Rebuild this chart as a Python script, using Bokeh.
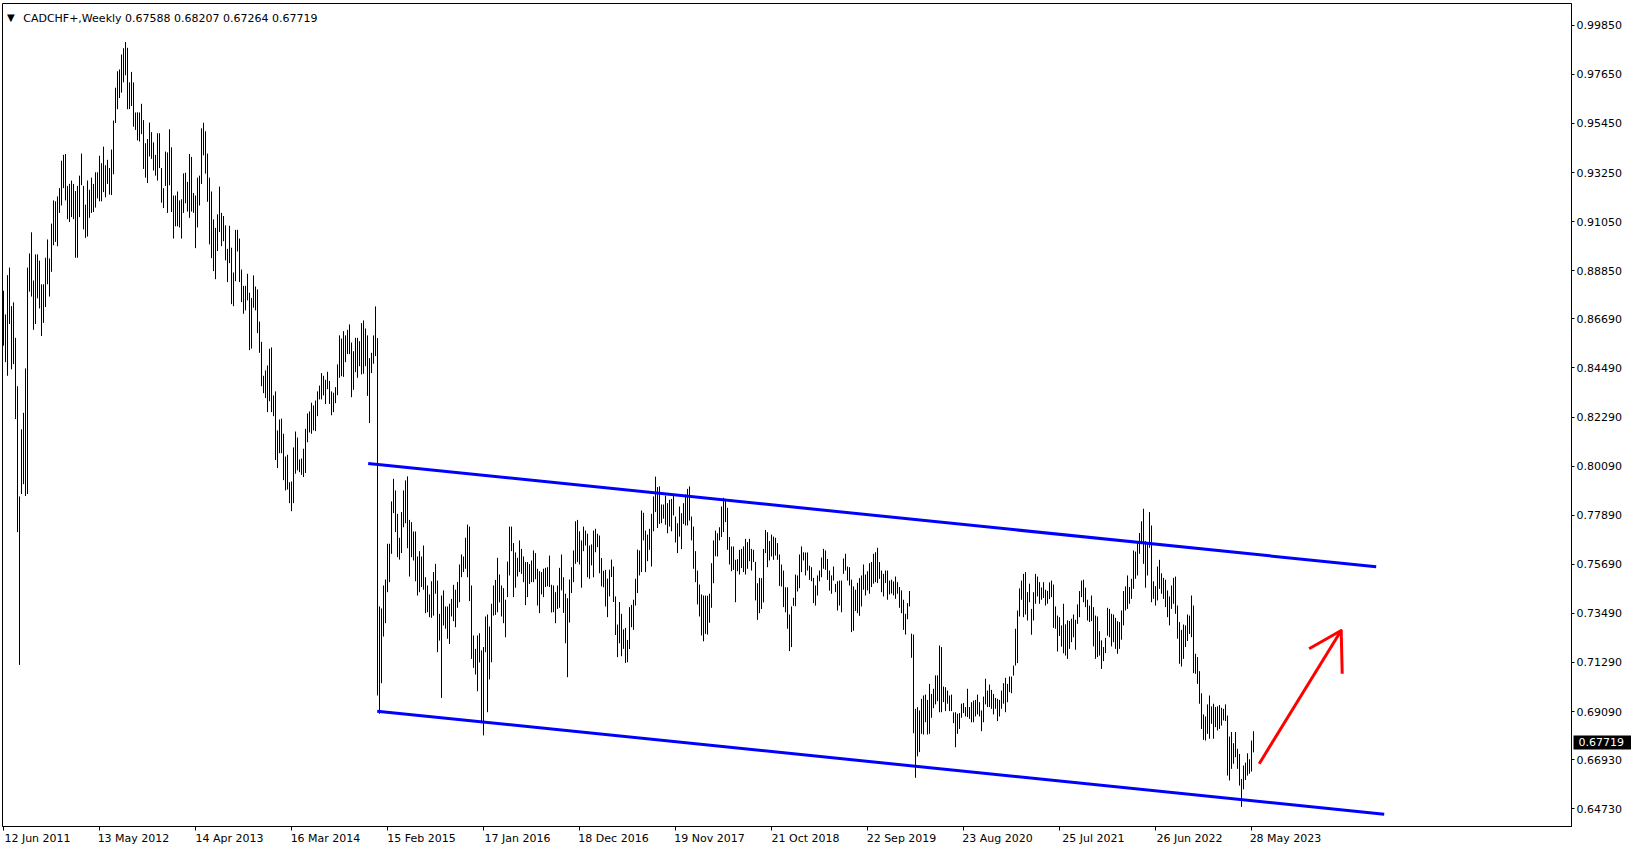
from bokeh.plotting import figure
from bokeh.models import (Range1d, FixedTicker, NumeralTickFormatter, Label, ColumnDataSource,
                          LinearAxis)
from bokeh.embed import file_html
from bokeh.resources import INLINE

# ---------------- data (weekly bars, prices in 1/10000 units) ----------------
# week 0 = 12 Jun 2011, one bar per week
high_2011 = [8795, 8689, 8865, 8899, 8726, 8743, 8584, 8367, 7873, 8174, 8248, 8447, 8899, 8962, 9057,
             8841, 8958, 8958, 8930, 8824, 8824, 8943, 9025, 8940, 9096, 9200, 9196, 9218, 9255]
low_2011 = [8549, 8475, 8414, 8646, 8443, 8466, 8220, 7713, 7118, 7884, 7928, 7875, 7884, 8791, 8769,
            8620, 8646, 8761, 8716, 8592, 8651, 8722, 8824, 8769, 8880, 8999, 9014, 8995, 9144]

high_2012 = [9378, 9404, 9408, 9265, 9274, 9289, 9274, 9242, 9265, 9311, 9410, 9265, 9181, 9289, 9248,
             9302, 9274, 9326, 9326, 9400, 9367, 9441, 9358, 9382, 9345, 9428, 9558, 9705, 9779, 9787,
             9854, 9882, 9910, 9884, 9729, 9776, 9729, 9594, 9595, 9594, 9633, 9560, 9456, 9475, 9549,
             9506, 9460, 9404, 9501, 9501, 9345, 9255, 9419]
low_2012 = [9177, 9255, 9200, 9116, 9103, 9125, 9116, 8943, 8943, 9125, 9268, 9070, 9032, 9038, 9122,
            9144, 9148, 9168, 9209, 9196, 9196, 9237, 9214, 9274, 9226, 9224, 9317, 9547, 9609, 9659,
            9683, 9729, 9761, 9609, 9609, 9623, 9530, 9516, 9469, 9464, 9497, 9341, 9302, 9278, 9397,
            9386, 9334, 9311, 9289, 9345, 9190, 9166, 9265]

high_2013 = [9415, 9519, 9438, 9222, 9222, 9240, 9200, 9205, 9321, 9324, 9283, 9408, 9395, 9233, 9222,
             9302, 9311, 9523, 9548, 9510, 9410, 9302, 9240, 9115, 9077, 9137, 9262, 9144, 9130, 9088,
             8983, 9086, 8988, 8877, 9068, 9068, 9029, 8890, 8817, 8817, 8871, 8786, 8763, 8864, 8814,
             8801, 8657, 8566, 8414, 8438, 8460, 8535]
low_2013 = [9144, 9268, 9148, 9029, 9084, 9084, 9079, 9029, 9144, 9187, 9150, 9122, 9150, 9144, 8986,
            9079, 9177, 9274, 9402, 9320, 9194, 9003, 8941, 8883, 8847, 8973, 9058, 8995, 9017, 8931,
            8834, 8919, 8735, 8726, 8838, 8971, 8834, 8744, 8692, 8707, 8752, 8529, 8536, 8719, 8707,
            8605, 8517, 8367, 8336, 8314, 8251, 8300]

high_2014 = [8541, 8326, 8344, 8169, 8218, 8222, 8154, 8052, 8060, 7937, 7940, 8093, 8164, 8137, 8039,
             8043, 8087, 8176, 8245, 8254, 8293, 8281, 8303, 8344, 8370, 8426, 8414, 8396, 8432, 8391,
             8344, 8338, 8363, 8465, 8595, 8581, 8614, 8595, 8620, 8644, 8563, 8524, 8584, 8584, 8569,
             8650, 8662, 8626, 8595, 8493, 8517, 8595]
low_2014 = [8251, 8233, 8036, 8000, 8067, 8067, 7946, 7900, 7904, 7843, 7807, 7843, 7975, 7990, 7982,
            7970, 7960, 7978, 8116, 8160, 8154, 8169, 8166, 8233, 8308, 8308, 8326, 8287, 8354, 8288,
            8237, 8251, 8291, 8327, 8405, 8412, 8409, 8475, 8511, 8511, 8318, 8351, 8430, 8405, 8457,
            8420, 8423, 8457, 8324, 8202, 8426, 8468]

high_2015 = [8725, 8583, 7380, 7371, 7474, 7501, 7661, 7661, 7851, 7952, 7900, 7795, 7688, 7803, 7900,
             7945, 7963, 7768, 7758, 7716, 7716, 7604, 7628, 7604, 7653, 7511, 7474, 7434, 7493, 7534,
             7571, 7496, 7347, 7429, 7452, 7380, 7380, 7392, 7414, 7477, 7455, 7489, 7568, 7613, 7604,
             7688, 7747, 7738, 7474, 7250, 7190, 7250]
low_2015 = [8502, 6981, 6899, 7036, 7245, 7305, 7444, 7489, 7616, 7798, 7713, 7601, 7590, 7619, 7735,
            7753, 7641, 7514, 7601, 7586, 7493, 7429, 7444, 7467, 7455, 7350, 7354, 7332, 7329, 7339,
            7437, 7175, 7227, 6970, 7295, 7280, 7235, 7212, 7335, 7314, 7287, 7374, 7399, 7511, 7534,
            7549, 7511, 7404, 7145, 7105, 7075, 7000]

high_2016 = [7260, 7183, 7198, 7335, 7344, 7290, 7392, 7474, 7499, 7598, 7523, 7474, 7462, 7410, 7581,
             7738, 7738, 7664, 7622, 7598, 7676, 7638, 7604, 7579, 7579, 7570, 7586, 7631, 7619, 7549,
             7538, 7534, 7549, 7553, 7556, 7608, 7477, 7474, 7444, 7474, 7553, 7613, 7511, 7437, 7417,
             7501, 7556, 7631, 7762, 7768, 7717, 7676]
low_2016 = [7129, 6857, 6802, 7175, 6906, 7053, 7130, 7339, 7342, 7354, 7398, 7335, 7305, 7242, 7422,
            7519, 7628, 7422, 7464, 7514, 7534, 7526, 7489, 7386, 7422, 7481, 7489, 7489, 7502, 7384,
            7350, 7434, 7422, 7467, 7470, 7467, 7353, 7354, 7305, 7369, 7374, 7452, 7351, 7215, 7063,
            7308, 7440, 7489, 7571, 7579, 7568, 7464]

high_2017 = [7738, 7720, 7706, 7653, 7658, 7720, 7728, 7706, 7698, 7597, 7540, 7544, 7505, 7545, 7590,
             7559, 7425, 7299, 7400, 7347, 7277, 7284, 7230, 7377, 7387, 7410, 7504, 7635, 7631, 7810,
             7800, 7720, 7702, 7728, 7795, 7873, 7962, 7915, 7918, 7837, 7837, 7877, 7843, 7858, 7862,
             7882, 7783, 7753, 7828, 7798, 7843, 7882, 7907]
low_2017 = [7628, 7653, 7511, 7504, 7564, 7511, 7623, 7646, 7529, 7470, 7466, 7380, 7332, 7425, 7512,
            7400, 7252, 7153, 7215, 7157, 7190, 7127, 7130, 7189, 7287, 7275, 7384, 7440, 7519, 7534,
            7676, 7534, 7583, 7634, 7559, 7717, 7803, 7732, 7750, 7753, 7773, 7746, 7708, 7738, 7717,
            7788, 7667, 7619, 7693, 7637, 7750, 7743, 7743]

high_2018 = [7918, 7783, 7738, 7628, 7541, 7478, 7434, 7429, 7429, 7428, 7437, 7574, 7676, 7720, 7708,
             7735, 7828, 7867, 7858, 7822, 7691, 7649, 7649, 7589, 7592, 7634, 7638, 7649, 7683, 7668,
             7683, 7638, 7634, 7580, 7484, 7508, 7507, 7638, 7723, 7713, 7673, 7702, 7693, 7688, 7664,
             7613, 7568, 7541, 7466, 7466, 7344, 7380]
low_2018 = [7765, 7676, 7549, 7489, 7389, 7335, 7250, 7224, 7257, 7254, 7307, 7374, 7484, 7605, 7604,
            7676, 7691, 7713, 7758, 7634, 7568, 7538, 7544, 7399, 7538, 7523, 7552, 7534, 7523, 7549,
            7583, 7541, 7579, 7407, 7320, 7350, 7368, 7398, 7619, 7556, 7586, 7604, 7589, 7608, 7589,
            7472, 7469, 7377, 7354, 7280, 7180, 7198]

high_2019 = [7419, 7523, 7519, 7613, 7649, 7623, 7622, 7622, 7563, 7556, 7508, 7474, 7519, 7541, 7599,
             7638, 7631, 7593, 7541, 7519, 7559, 7481, 7493, 7496, 7496, 7595, 7616, 7559, 7556, 7500,
             7470, 7455, 7486, 7507, 7519, 7568, 7523, 7538, 7574, 7579, 7616, 7623, 7643, 7579, 7541,
             7526, 7541, 7541, 7496, 7500, 7492, 7514]
low_2019 = [7383, 7381, 7447, 7462, 7534, 7586, 7519, 7541, 7499, 7493, 7395, 7384, 7429, 7493, 7511,
            7549, 7544, 7499, 7451, 7437, 7496, 7444, 7362, 7384, 7354, 7526, 7541, 7496, 7474, 7265,
            7271, 7360, 7350, 7338, 7380, 7455, 7429, 7452, 7437, 7467, 7482, 7489, 7485, 7504, 7444,
            7425, 7485, 7410, 7434, 7438, 7430, 7414]

high_2020 = [7489, 7467, 7452, 7410, 7347, 7395, 7449, 7258, 7254, 6921, 6929, 6914, 6966, 6981, 6985,
             6961, 7033, 6988, 7011, 7071, 7071, 7205, 7198, 7021, 7018, 7003, 6981, 6985, 6905, 6906,
             6899, 6902, 6944, 6947, 6929, 7011, 6929, 6951, 6958, 6961, 6985, 6951, 6914, 6976, 7056,
             7003, 7030, 7006, 6988, 6970, 6966, 6961]
low_2020 = [7437, 7374, 7350, 7275, 7254, 7323, 7380, 7150, 6812, 6612, 6708, 6727, 6809, 6806, 6861,
            6806, 6809, 6881, 6924, 6941, 6955, 6906, 6906, 6951, 6911, 6944, 6911, 6911, 6857, 6749,
            6809, 6831, 6881, 6902, 6887, 6884, 6876, 6861, 6861, 6887, 6896, 6887, 6821, 6861, 6941,
            6929, 6929, 6921, 6896, 6921, 6866, 6887]

high_2021 = [7003, 7036, 7060, 7033, 7066, 7066, 7115, 7280, 7362, 7461, 7496, 7526, 7534, 7444, 7482,
             7369, 7444, 7526, 7514, 7489, 7465, 7489, 7455, 7450, 7488, 7496, 7478, 7380, 7339, 7332,
             7295, 7392, 7300, 7318, 7315, 7325, 7344, 7320, 7389, 7449, 7496, 7500, 7464, 7410, 7384,
             7429, 7377, 7339, 7335, 7269, 7228, 7198]
low_2021 = [6921, 6944, 6906, 6951, 6996, 6991, 7070, 7115, 7126, 7335, 7410, 7332, 7344, 7317, 7399,
            7253, 7317, 7392, 7425, 7392, 7410, 7418, 7384, 7392, 7413, 7422, 7284, 7280, 7178, 7248,
            7200, 7170, 7160, 7145, 7190, 7220, 7242, 7186, 7302, 7332, 7422, 7399, 7377, 7317, 7310,
            7314, 7201, 7145, 7153, 7160, 7100, 7135]

high_2022 = [7239, 7374, 7369, 7347, 7344, 7329, 7314, 7310, 7362, 7449, 7470, 7519, 7467, 7504, 7631,
             7626, 7668, 7709, 7762, 7818, 7673, 7668, 7803, 7743, 7493, 7471, 7559, 7589, 7529, 7508,
             7500, 7452, 7425, 7474, 7508, 7514, 7384, 7310, 7275, 7299, 7295, 7344, 7339, 7429, 7384,
             7168, 7153, 7090, 6991, 6896, 6887, 6941]
low_2022 = [7171, 7249, 7242, 7201, 7220, 7190, 7168, 7190, 7231, 7295, 7362, 7369, 7392, 7414, 7459,
            7504, 7519, 7616, 7661, 7571, 7464, 7519, 7643, 7399, 7414, 7384, 7407, 7459, 7437, 7414,
            7377, 7332, 7295, 7369, 7392, 7347, 7235, 7123, 7111, 7145, 7198, 7225, 7257, 7242, 7081,
            7078, 7033, 6944, 6831, 6782, 6779, 6809]

high_2023 = [6981, 6932, 6944, 6929, 6932, 6938, 6926, 6921, 6941, 6891, 6797, 6817, 6767, 6817, 6742,
             6719, 6607, 6667, 6680, 6722, 6695, 6779, 6821]
low_2023 = [6787, 6854, 6787, 6839, 6824, 6831, 6846, 6869, 6866, 6622, 6600, 6652, 6675, 6704, 6652,
            6577, 6482, 6560, 6602, 6622, 6630, 6640, 6726]

# current (last) bar as shown in the header
last_open, last_high, last_low, last_close = 0.67588, 0.68207, 0.67264, 0.67719
symbol = "CADCHF+,Weekly"

# date axis labels (every 48 weeks)
tick_weeks = [0, 48, 96, 144, 192, 240, 288, 336, 384, 432, 480, 528, 576, 624]
tick_labels = ["12 Jun 2011", "13 May 2012", "14 Apr 2013", "16 Mar 2014", "15 Feb 2015",
               "17 Jan 2016", "18 Dec 2016", "19 Nov 2017", "21 Oct 2018", "22 Sep 2019",
               "23 Aug 2020", "25 Jul 2021", "26 Jun 2022", "28 May 2023"]
price_ticks = [0.6473, 0.6693, 0.6909, 0.7129, 0.7349, 0.7569, 0.7789, 0.8009, 0.8229,
               0.8449, 0.8669, 0.8885, 0.9105, 0.9325, 0.9545, 0.9765, 0.9985]

# drawn objects (anchor points: week, price)
channel_top_week = [182.35, 686.35]
channel_top_price = [0.80208, 0.75578]
channel_bot_week = [186.85, 690.35]
channel_bot_price = [0.69105, 0.64488]
arrow_shaft_week = [627.85, 668.85]
arrow_shaft_price = [0.66748, 0.72722]
arrow_head_week = [652.8, 668.85, 669.35]
arrow_head_price = [0.71902, 0.72722, 0.70782]

# ---------------- build ----------------
highs = (high_2011 + high_2012 + high_2013 + high_2014 + high_2015 + high_2016 + high_2017 +
         high_2018 + high_2019 + high_2020 + high_2021 + high_2022 + high_2023)
lows = (low_2011 + low_2012 + low_2013 + low_2014 + low_2015 + low_2016 + low_2017 +
        low_2018 + low_2019 + low_2020 + low_2021 + low_2022 + low_2023)
n = min(len(highs), len(lows))
src = ColumnDataSource(dict(week=list(range(n)),
                            high=[h / 10000 for h in highs[:n]],
                            low=[l / 10000 for l in lows[:n]]))

FONT = "DejaVu Sans"
FW, FH = 1569, 823

p = figure(frame_width=FW, frame_height=FH,
           x_range=Range1d(-0.5, -0.5 + FW / 2), y_range=Range1d(0.63937, 1.00826),
           y_axis_location="right", toolbar_location=None, output_backend="svg",
           min_border_left=2, min_border_top=3, min_border_right=60, min_border_bottom=18)
p.background_fill_color = "white"
p.border_fill_color = "white"
p.outline_line_color = "black"
p.outline_line_width = 1
p.xgrid.visible = False
p.ygrid.visible = False

p.segment(x0="week", y0="low", x1="week", y1="high", source=src,
          line_color="black", line_width=1)

p.line(channel_top_week, channel_top_price, line_color="#0000ff", line_width=3)
p.line(channel_bot_week, channel_bot_price, line_color="#0000ff", line_width=3)
p.multi_line(xs=[arrow_shaft_week, arrow_head_week], ys=[arrow_shaft_price, arrow_head_price],
             line_color="#ff0000", line_width=3, line_join="round")

# x axis: minor tick at the bar, label just to the right of it
lab_off = 17
xa = p.xaxis[0]
xa.ticker = FixedTicker(ticks=[t + lab_off for t in tick_weeks], minor_ticks=tick_weeks)
xa.major_label_overrides = {t + lab_off: s for t, s in zip(tick_weeks, tick_labels)}
xa.major_tick_line_color = None
xa.major_tick_out = 3
xa.major_tick_in = 0
xa.minor_tick_out = 4
xa.minor_tick_in = 0
xa.minor_tick_line_color = "black"
xa.major_label_standoff = 1
xa.axis_line_color = "black"
xa.major_label_text_font = FONT
xa.major_label_text_font_size = "11px"
xa.major_label_text_color = "black"

ya = p.yaxis[0]
ya.ticker = FixedTicker(ticks=price_ticks)
ya.formatter = NumeralTickFormatter(format="0.00000")
ya.major_tick_out = 3
ya.major_tick_in = 0
ya.minor_tick_line_color = None
ya.major_label_standoff = 2
ya.axis_line_color = "black"
ya.major_label_text_font = FONT
ya.major_label_text_font_size = "11px"
ya.major_label_text_color = "black"

# current-price marker: a second right axis whose single tick is drawn back over the
# price scale as a black box, with its label in white on top of it
pa = LinearAxis(ticker=FixedTicker(ticks=[last_close]),
                formatter=NumeralTickFormatter(format="0.00000"))
pa.axis_line_color = None
pa.minor_tick_line_color = None
pa.major_tick_line_color = "black"
pa.major_tick_line_width = 14
pa.major_tick_line_cap = "butt"
pa.major_tick_in = 51
pa.major_tick_out = 8
pa.major_label_standoff = -54
pa.major_label_text_font = FONT
pa.major_label_text_font_size = "11px"
pa.major_label_text_color = "white"
p.add_layout(pa, "right")

header = f"{symbol}  {last_open:.5f} {last_high:.5f} {last_low:.5f} {last_close:.5f}"
p.add_layout(Label(x=4.5, y=FH - 14, x_units="screen", y_units="screen", text="\u25bc",
                   text_font=FONT, text_font_size="10px", text_color="black",
                   text_baseline="alphabetic"))
p.add_layout(Label(x=20.7, y=FH - 15.3, x_units="screen", y_units="screen", text=header,
                   text_font=FONT, text_font_size="11px", text_color="black",
                   text_baseline="alphabetic"))

open("out.html", "w").write(file_html(p, INLINE))
